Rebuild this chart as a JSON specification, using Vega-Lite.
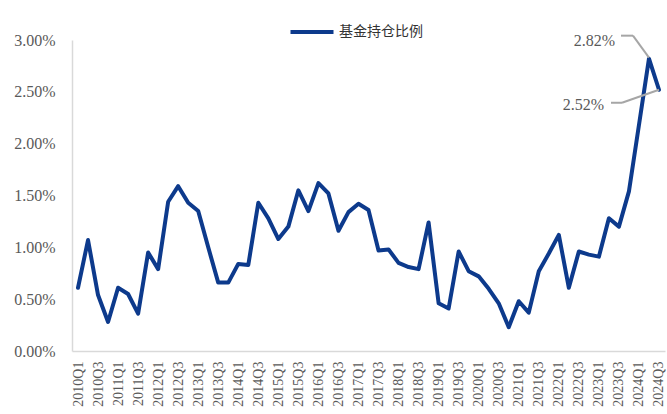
{
  "$schema": "https://vega.github.io/schema/vega-lite/v6.json",
  "width": 593,
  "height": 311,
  "autosize": {"type": "none"},
  "padding": {"left": 72, "top": 40, "right": 2, "bottom": 63},
  "background": "white",
  "config": {"view": {"stroke": null}},
  "datasets": {
    "main": [
      {"q": "2010Q1", "v": 0.61, "s": "基金持仓比例"},
      {"q": "2010Q2", "v": 1.07, "s": "基金持仓比例"},
      {"q": "2010Q3", "v": 0.54, "s": "基金持仓比例"},
      {"q": "2010Q4", "v": 0.28, "s": "基金持仓比例"},
      {"q": "2011Q1", "v": 0.61, "s": "基金持仓比例"},
      {"q": "2011Q2", "v": 0.55, "s": "基金持仓比例"},
      {"q": "2011Q3", "v": 0.36, "s": "基金持仓比例"},
      {"q": "2011Q4", "v": 0.95, "s": "基金持仓比例"},
      {"q": "2012Q1", "v": 0.79, "s": "基金持仓比例"},
      {"q": "2012Q2", "v": 1.44, "s": "基金持仓比例"},
      {"q": "2012Q3", "v": 1.59, "s": "基金持仓比例"},
      {"q": "2012Q4", "v": 1.43, "s": "基金持仓比例"},
      {"q": "2013Q1", "v": 1.35, "s": "基金持仓比例"},
      {"q": "2013Q2", "v": 1.00, "s": "基金持仓比例"},
      {"q": "2013Q3", "v": 0.66, "s": "基金持仓比例"},
      {"q": "2013Q4", "v": 0.66, "s": "基金持仓比例"},
      {"q": "2014Q1", "v": 0.84, "s": "基金持仓比例"},
      {"q": "2014Q2", "v": 0.83, "s": "基金持仓比例"},
      {"q": "2014Q3", "v": 1.43, "s": "基金持仓比例"},
      {"q": "2014Q4", "v": 1.28, "s": "基金持仓比例"},
      {"q": "2015Q1", "v": 1.08, "s": "基金持仓比例"},
      {"q": "2015Q2", "v": 1.20, "s": "基金持仓比例"},
      {"q": "2015Q3", "v": 1.55, "s": "基金持仓比例"},
      {"q": "2015Q4", "v": 1.35, "s": "基金持仓比例"},
      {"q": "2016Q1", "v": 1.62, "s": "基金持仓比例"},
      {"q": "2016Q2", "v": 1.52, "s": "基金持仓比例"},
      {"q": "2016Q3", "v": 1.16, "s": "基金持仓比例"},
      {"q": "2016Q4", "v": 1.34, "s": "基金持仓比例"},
      {"q": "2017Q1", "v": 1.42, "s": "基金持仓比例"},
      {"q": "2017Q2", "v": 1.36, "s": "基金持仓比例"},
      {"q": "2017Q3", "v": 0.97, "s": "基金持仓比例"},
      {"q": "2017Q4", "v": 0.98, "s": "基金持仓比例"},
      {"q": "2018Q1", "v": 0.85, "s": "基金持仓比例"},
      {"q": "2018Q2", "v": 0.81, "s": "基金持仓比例"},
      {"q": "2018Q3", "v": 0.79, "s": "基金持仓比例"},
      {"q": "2018Q4", "v": 1.24, "s": "基金持仓比例"},
      {"q": "2019Q1", "v": 0.46, "s": "基金持仓比例"},
      {"q": "2019Q2", "v": 0.41, "s": "基金持仓比例"},
      {"q": "2019Q3", "v": 0.96, "s": "基金持仓比例"},
      {"q": "2019Q4", "v": 0.77, "s": "基金持仓比例"},
      {"q": "2020Q1", "v": 0.72, "s": "基金持仓比例"},
      {"q": "2020Q2", "v": 0.60, "s": "基金持仓比例"},
      {"q": "2020Q3", "v": 0.46, "s": "基金持仓比例"},
      {"q": "2020Q4", "v": 0.23, "s": "基金持仓比例"},
      {"q": "2021Q1", "v": 0.48, "s": "基金持仓比例"},
      {"q": "2021Q2", "v": 0.37, "s": "基金持仓比例"},
      {"q": "2021Q3", "v": 0.77, "s": "基金持仓比例"},
      {"q": "2021Q4", "v": 0.94, "s": "基金持仓比例"},
      {"q": "2022Q1", "v": 1.12, "s": "基金持仓比例"},
      {"q": "2022Q2", "v": 0.61, "s": "基金持仓比例"},
      {"q": "2022Q3", "v": 0.96, "s": "基金持仓比例"},
      {"q": "2022Q4", "v": 0.93, "s": "基金持仓比例"},
      {"q": "2023Q1", "v": 0.91, "s": "基金持仓比例"},
      {"q": "2023Q2", "v": 1.28, "s": "基金持仓比例"},
      {"q": "2023Q3", "v": 1.20, "s": "基金持仓比例"},
      {"q": "2023Q4", "v": 1.54, "s": "基金持仓比例"},
      {"q": "2024Q1", "v": 2.18, "s": "基金持仓比例"},
      {"q": "2024Q2", "v": 2.82, "s": "基金持仓比例"},
      {"q": "2024Q3", "v": 2.52, "s": "基金持仓比例"}
    ],
    "notes": [
      {"q": "2024Q2", "v": 2.82, "label": "2.82%"},
      {"q": "2024Q3", "v": 2.52, "label": "2.52%"}
    ]
  },
  "layer": [
    {
      "data": {"name": "main"},
      "mark": {"type": "line", "strokeWidth": 4, "strokeJoin": "round", "strokeCap": "round"},
      "encoding": {
        "x": {
          "field": "q", "type": "ordinal", "sort": null,
          "scale": {"type": "point", "padding": 0.6},
          "axis": {
            "title": null, "labelAngle": -90, "labelAlign": "right", "labelBaseline": "middle",
            "labelPadding": 10, "ticks": false, "domainColor": "#d9d9d9", "domainWidth": 1.5,
            "labelFont": "Liberation Serif", "labelFontSize": 14, "labelColor": "#595959",
            "labelOverlap": false,
            "labelExpr": "test(/Q[24]$/, datum.value) ? '' : datum.value"
          }
        },
        "y": {
          "field": "v", "type": "quantitative",
          "scale": {"domain": [0, 3], "nice": false},
          "axis": {
            "title": null, "values": [0, 0.5, 1, 1.5, 2, 2.5, 3], "grid": false, "ticks": false,
            "domainColor": "#d9d9d9", "domainWidth": 1.5, "labelPadding": 17,
            "labelFont": "Liberation Serif", "labelFontSize": 16, "labelColor": "#595959",
            "labelExpr": "format(datum.value, '.2f') + '%'"
          }
        },
        "color": {
          "field": "s", "type": "nominal",
          "scale": {"range": ["#0d3a8c"]},
          "legend": {
            "title": null, "orient": "none", "legendX": 216, "legendY": -32, "padding": 0,
            "symbolType": "stroke", "symbolStrokeWidth": 4, "symbolSize": 1850,
            "labelFont": "Noto Sans CJK SC", "labelFontSize": 14, "labelColor": "#333333",
            "labelOffset": 3
          }
        }
      }
    },
    {
      "data": {"name": "notes"},
      "transform": [{"filter": "datum.q == '2024Q2'"}],
      "layer": [
        {"mark": {"type": "rule", "color": "#a6a6a6", "strokeWidth": 2, "yOffset": -1, "x2Offset": -16, "y2Offset": -23},
         "encoding": {"x": {"field": "q", "type": "ordinal", "sort": null}, "y": {"field": "v", "type": "quantitative"}, "x2": {"field": "q"}, "y2": {"field": "v"}}},
        {"mark": {"type": "rule", "color": "#a6a6a6", "strokeWidth": 2, "xOffset": -16, "yOffset": -23, "x2Offset": -28, "y2Offset": -23},
         "encoding": {"x": {"field": "q", "type": "ordinal", "sort": null}, "y": {"field": "v", "type": "quantitative"}, "x2": {"field": "q"}, "y2": {"field": "v"}}},
        {"mark": {"type": "text", "align": "right", "baseline": "middle", "dx": -34, "dy": -18, "font": "Liberation Serif", "fontSize": 16, "color": "#595959"},
         "encoding": {"x": {"field": "q", "type": "ordinal", "sort": null}, "y": {"field": "v", "type": "quantitative"}, "text": {"field": "label"}}}
      ]
    },
    {
      "data": {"name": "notes"},
      "transform": [{"filter": "datum.q == '2024Q3'"}],
      "layer": [
        {"mark": {"type": "rule", "color": "#a6a6a6", "strokeWidth": 2, "x2Offset": -37, "y2Offset": 13},
         "encoding": {"x": {"field": "q", "type": "ordinal", "sort": null}, "y": {"field": "v", "type": "quantitative"}, "x2": {"field": "q"}, "y2": {"field": "v"}}},
        {"mark": {"type": "rule", "color": "#a6a6a6", "strokeWidth": 2, "xOffset": -37, "yOffset": 13, "x2Offset": -48, "y2Offset": 13},
         "encoding": {"x": {"field": "q", "type": "ordinal", "sort": null}, "y": {"field": "v", "type": "quantitative"}, "x2": {"field": "q"}, "y2": {"field": "v"}}},
        {"mark": {"type": "text", "align": "right", "baseline": "middle", "dx": -55, "dy": 15, "font": "Liberation Serif", "fontSize": 16, "color": "#595959"},
         "encoding": {"x": {"field": "q", "type": "ordinal", "sort": null}, "y": {"field": "v", "type": "quantitative"}, "text": {"field": "label"}}}
      ]
    }
  ]
}
